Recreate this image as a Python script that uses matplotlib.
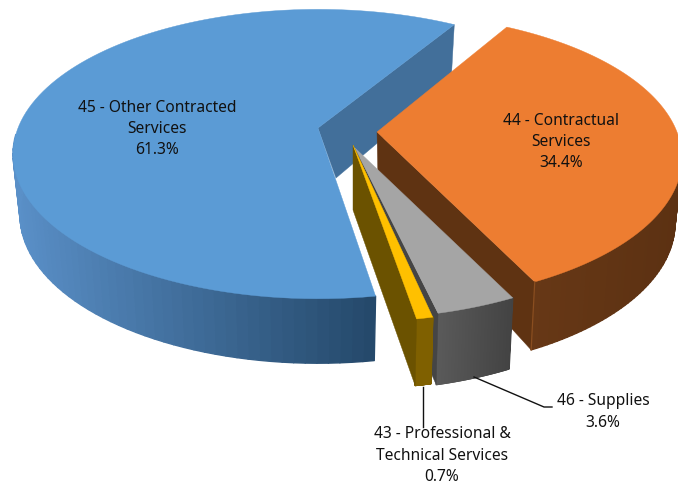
import numpy as np
import matplotlib
matplotlib.use('Agg')
from matplotlib import pyplot as plt
from matplotlib.colors import to_rgb
from matplotlib.patches import Polygon

#data
codes = ['44 - Contractual\nServices', '46 - Supplies',
         '43 - Professional &\nTechnical Services', '45 - Other Contracted\nServices']
shares = [34.4, 3.6, 0.7, 61.3]

#look of each slice, same order as the data
top_col = ['#ED7D31', '#A5A5A5', '#FFC000', '#5B9BD5']
cut_col = ['#5F3312', '#454545', '#6B5200', '#426F9A']
wall_a = ['#5C3112', '#434343', '#7F6000', '#25496B']   #at the right end
wall_b = ['#673816', '#5A5A5A', '#7F6000', '#5A90C8']   #at the left end
apex = [(377, 132), (355, 148), (353, 145), (318, 128)]
apex_low = [(378, 182), (355, 200), (353, 210), (336, 178)]
radius = [1.0, 1.0, 1.03, 1.0]
nudge = [0.0, 0.0, 1.0, 1.6]
extra_depth = [2, 5, 0, -2]

start_deg = 30.0
a_px, b_px, k = 300.0, 140.0, 0.18


def rim(th, c, r):
    """top rim points, th in degrees clockwise from north"""
    t = np.radians(th)
    u, v = r*np.sin(t), -r*np.cos(t)
    s = 1/(1 - k*v)
    return c[0] + a_px*s*u, c[1] + b_px*s*v, v


def low(x, y, v, c, d):
    """same points moved down to the bottom of the disc"""
    return x - (x - c[0])*0.023, y + 62 + d + 4.5*v


fig = plt.figure(figsize=(6.78, 4.84), dpi=100)
ax = fig.add_axes([0, 0, 1, 1])
ax.set_xlim(0, 678)
ax.set_ylim(484, 0)
ax.axis('off')

#angles from the values
edges = start_deg + np.cumsum([0] + shares)*3.6
#draw blue first, then orange, gray, yellow on top
for i in [3, 0, 1, 2]:
    t0, t1 = edges[i] + nudge[i], edges[i+1] + nudge[i]
    th = np.linspace(t0, t1, 120)
    c = apex[i]
    x, y, v = rim(th, c, radius[i])
    xl, yl = low(x, y, v, c, extra_depth[i])

    #outer wall in thin strips to get the shading
    ca, cb = np.array(to_rgb(wall_a[i])), np.array(to_rgb(wall_b[i]))
    vis = np.where(v > 0.03)[0]
    xmin, xmax = x[vis].min(), x[vis].max()
    span = max(xmax - xmin, 1)
    for j0, j1 in zip(vis[:-1], vis[1:]):
        if j1 != j0 + 1:
            continue
        f = (xmax - x[j0])/span
        col = ca*(1 - f) + cb*f
        ax.add_patch(Polygon([(x[j0], y[j0]), (x[j1], y[j1]), (xl[j1], yl[j1]), (xl[j0], yl[j0])],
                             closed=True, fc=col, ec=col, lw=1.0, joinstyle='round'))

    #cut face on the last edge
    ax.add_patch(Polygon([c, (x[-1], y[-1]), (xl[-1], yl[-1]), apex_low[i]],
                         closed=True, fc=cut_col[i], ec=cut_col[i], lw=0.3))
    #top
    ax.add_patch(Polygon(np.vstack([[c], np.column_stack([x, y])]),
                         closed=True, fc=top_col[i], ec=top_col[i], lw=0.3))

#light line on the orange corner
x0, y0, v0 = rim(edges[1], apex[0], 1.0)
x1, y1 = low(x0, y0, v0, apex[0], extra_depth[0])
ax.plot([x0, x1], [y0, y1], color='#8A4E20', lw=0.9)

#leader lines
ax.plot([423, 423], [387, 427], color='#111111', lw=1.0)
ax.plot([474, 544, 552], [377, 407, 407], color='#111111', lw=1.0)

#labels
label_pos = [(561, 142), (603, 412), (442, 455.5), (157, 129)]
for name, val, pos in zip(codes, shares, label_pos):
    ax.text(pos[0], pos[1], name + '\n%.1f%%' % val, ha='center', va='center',
            family='Noto Sans', fontsize=11.2, color='#111111', linespacing=1.42)

fig.savefig('out.png', dpi=100)
